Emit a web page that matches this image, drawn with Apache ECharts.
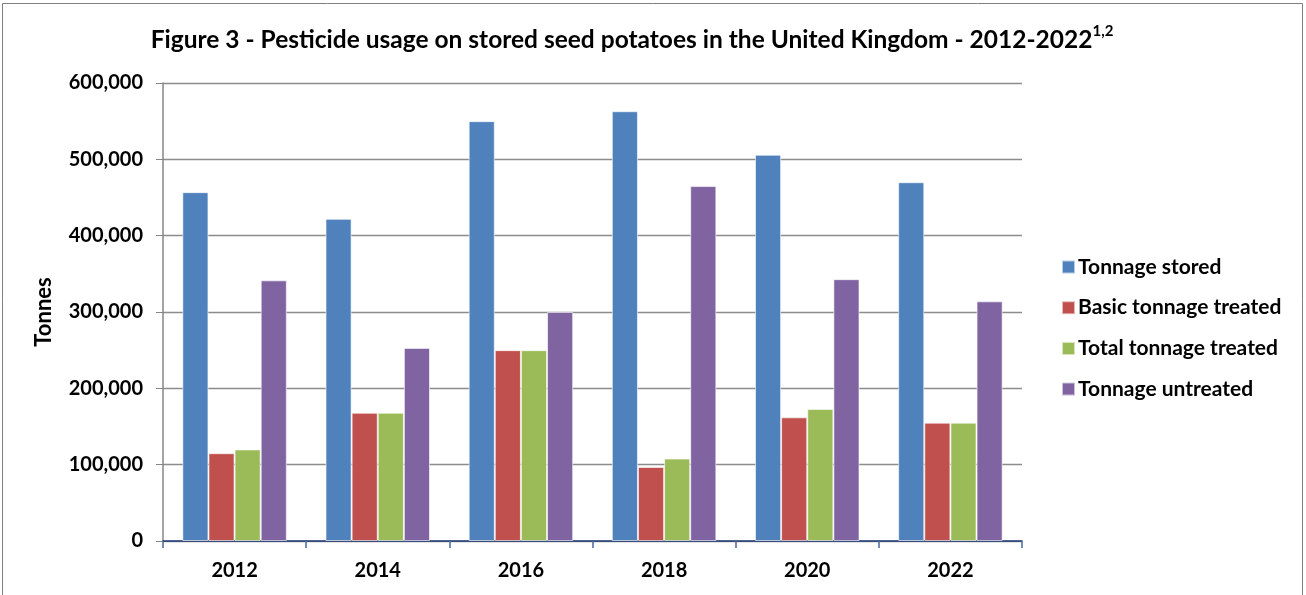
<!DOCTYPE html>
<html><head><meta charset="utf-8">
<script src="https://cdn.jsdelivr.net/npm/echarts@6/dist/echarts.min.js"></script>
<style>html,body{margin:0;padding:0;background:#fff}#c{width:1306px;height:595px}</style>
</head><body><div id="c"></div>
<script>
const years = ['2012','2014','2016','2018','2020','2022'];
const tonnageStored = [457000, 422000, 550000, 563000, 506000, 470000];
const basicTreated = [115000, 168000, 250000, 97000, 162000, 155000];
const totalTreated = [120000, 168000, 250000, 108000, 173000, 155000];
const untreated = [341500, 253000, 300000, 465000, 343000, 314000];
const seriesNames = ['Tonnage stored','Basic tonnage treated','Total tonnage treated','Tonnage untreated'];
const colors = ['#4F81BD','#C0504D','#9BBB59','#8064A2'];

const FONT = 'Lato';
const chart = echarts.init(document.getElementById('c'), null, {renderer:'canvas'});
const mk = (name, data, i) => ({
  name, type:'bar', data, barGap:'0%', barCategoryGap:'27%',
  itemStyle:{color:colors[i], borderColor:'rgba(255,255,255,0.6)', borderWidth:1},
  emphasis:{disabled:true}
});
chart.setOption({
  animation:false,
  textStyle:{fontFamily:FONT},
  graphic:[{type:'rect', shape:{x:2.5,y:3.5,width:1300,height:620}, style:{fill:null, stroke:'#7f7f7f', lineWidth:1}, silent:true}],
  title:{
    text:'{t|Figure 3 - Pesticide usage on stored seed potatoes in the United Kingdom - 2012-2022}{s|1,2}',
    left:627, top:19, textAlign:'center',
    textStyle:{rich:{
      t:{fontFamily:FONT, fontWeight:'bold', fontSize:24.5, color:'#000', lineHeight:32},
      s:{fontFamily:FONT, fontWeight:'bold', fontSize:15, color:'#000', verticalAlign:'top', lineHeight:32, padding:[0,0,12,0]}
    }}
  },
  legend:{
    orient:'vertical', left:1056, top:251, itemWidth:13, itemHeight:13, itemGap:18.7,
    icon:'rect',
    textStyle:{fontFamily:FONT, fontWeight:'bold', fontSize:21, color:'#000', lineHeight:22, padding:[0,0,0,-2]},
    data:seriesNames
  },
  grid:{left:163, right:284, top:83, bottom:54, containLabel:false},
  xAxis:{
    type:'category', data:years,
    axisLine:{lineStyle:{color:'#1F3A7A', width:1.5}},
    axisTick:{show:true, alignWithLabel:false, length:7, lineStyle:{color:'#4a6aa0', width:1.5}},
    axisLabel:{fontFamily:FONT, fontWeight:'bold', fontSize:20, color:'#000', margin:20}
  },
  yAxis:{
    type:'value', min:0, max:600000, interval:100000,
    name:'Tonnes', nameLocation:'middle', nameGap:108, nameRotate:90,
    nameTextStyle:{fontFamily:FONT, fontWeight:'bold', fontSize:22, color:'#000'},
    axisLine:{show:true, lineStyle:{color:'#868686', width:1.5}},
    axisTick:{show:true, length:7, lineStyle:{color:'#868686'}},
    splitLine:{lineStyle:{color:'#8c8c8c', width:1.3}},
    axisLabel:{fontFamily:FONT, fontWeight:'bold', fontSize:20, color:'#000', margin:20,
      formatter:v=>v.toLocaleString('en-GB')}
  },
  series:[mk(seriesNames[0],tonnageStored,0), mk(seriesNames[1],basicTreated,1), mk(seriesNames[2],totalTreated,2), mk(seriesNames[3],untreated,3)]
});
</script></body></html>
